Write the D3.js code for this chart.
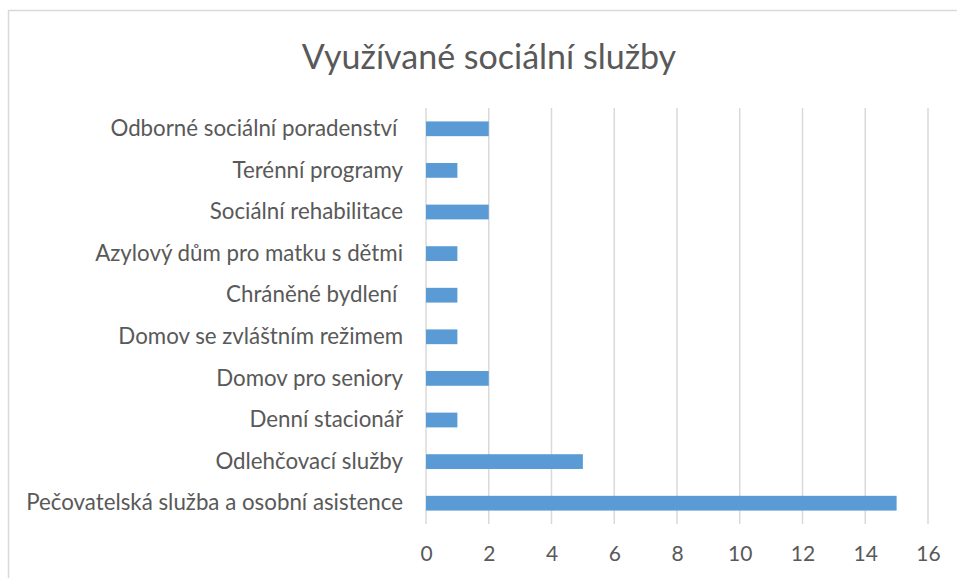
<!DOCTYPE html>
<html><head><meta charset="utf-8">
<script src="https://cdn.jsdelivr.net/npm/d3@7"></script>
<style>body{margin:0;background:#fff}svg{display:block}text{white-space:pre}</style>
</head><body><svg id="c" width="957" height="578"></svg>
<script>
const categories = ["Odborné sociální poradenství ","Terénní programy","Sociální rehabilitace","Azylový dům pro matku s dětmi","Chráněné bydlení ","Domov se zvláštním režimem","Domov pro seniory","Denní stacionář","Odlehčovací služby","Pečovatelská služba a osobní asistence"];
const values = [2,1,2,1,1,1,2,1,5,15];
const ticks = [0,2,4,6,8,10,12,14,16];
const title = "Využívané sociální služby";

const svg = d3.select("#c");
const font = "Lato, sans-serif";
svg.append("rect").attr("x",8.5).attr("y",10.5).attr("width",960).attr("height",580)
  .attr("fill","#fff").attr("stroke","#d9d9d9").attr("stroke-width",1.5);

const x = d3.scaleLinear().domain([0,16]).range([426,928]);
const y = d3.scaleBand().domain(categories).range([108,524]).paddingInner(0.645).paddingOuter(0.3225);

svg.append("g").selectAll("line").data(ticks).join("line")
  .attr("x1",d=>x(d)).attr("x2",d=>x(d)).attr("y1",108).attr("y2",524)
  .attr("stroke","#d9d9d9").attr("stroke-width",1.5);

svg.append("g").selectAll("rect").data(values).join("rect")
  .attr("x",x(0)).attr("y",(d,i)=>y(categories[i]))
  .attr("width",d=>x(d)-x(0)).attr("height",y.bandwidth())
  .attr("fill","#5b9bd5");

const xa = svg.append("g").attr("transform","translate(0,524)")
  .call(d3.axisBottom(x).tickValues(ticks).tickSize(0).tickPadding(22));
xa.select(".domain").remove();
xa.selectAll("text").attr("font-family",font).attr("font-size",21).attr("fill","#595959");

const ya = svg.append("g").attr("transform","translate(426,0)")
  .call(d3.axisLeft(y).tickSize(0).tickPadding(23));
ya.select(".domain").remove();
ya.selectAll("text").attr("font-family",font).attr("font-size",22.3).attr("fill","#595959");

svg.append("text").attr("x",489).attr("y",69).attr("text-anchor","middle")
  .attr("font-family",font).attr("font-size",34).attr("fill","#595959").text(title);
</script></body></html>
